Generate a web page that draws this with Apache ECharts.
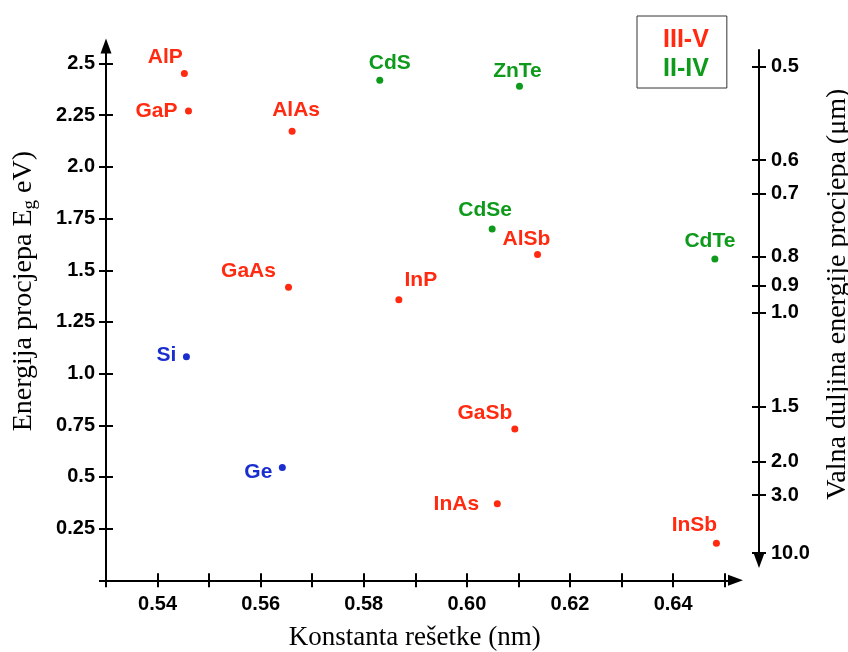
<!DOCTYPE html>
<html lang="hr">
<head>
<meta charset="UTF-8">
<title>Energija procjepa</title>
<script src="https://cdn.jsdelivr.net/npm/echarts@6/dist/echarts.min.js"></script>
<style>
    html, body { margin: 0; padding: 0; background: #fff; }
    #chart { width: 848px; height: 652px; }
</style>
</head>
<body>
<div id="chart"></div>
<script>
    // III-V poluvodici
    var names35 = ['AlP', 'GaP', 'AlAs', 'GaAs', 'InP', 'AlSb', 'GaSb', 'InAs', 'InSb'];
    var lattice35 = [0.5452, 0.5460, 0.5661, 0.5654, 0.5868, 0.6137, 0.6093, 0.6059, 0.6484];
    var gap35 = [2.452, 2.271, 2.173, 1.418, 1.357, 1.576, 0.732, 0.370, 0.179];

    // II-VI poluvodici
    var names26 = ['ZnSe', 'CdS', 'ZnTe', 'CdSe', 'CdTe'];
    var lattice26 = [0.5667, 0.5831, 0.6102, 0.6049, 0.6481];
    var gap26 = [2.706, 2.419, 2.390, 1.700, 1.555];

    // IV
    var names4 = ['Si', 'Ge'];
    var lattice4 = [0.5456, 0.5642];
    var gap4 = [1.081, 0.546];

    // osi
    var xTicks = [0.53, 0.54, 0.55, 0.56, 0.57, 0.58, 0.59, 0.60, 0.61, 0.62, 0.63, 0.64, 0.65];
    var xLabels = [0.54, 0.56, 0.58, 0.60, 0.62, 0.64];
    var yTicks = [0, 0.25, 0.5, 0.75, 1.0, 1.25, 1.5, 1.75, 2.0, 2.25, 2.5];
    var yLabels = [0.25, 0.5, 0.75, 1.0, 1.25, 1.5, 1.75, 2.0, 2.25, 2.5];
    var waveLabels = ['0.5', '0.6', '0.7', '0.8', '0.9', '1.0', '1.5', '2.0', '3.0', '10.0'];
    var waveTickEnergy = [2.483, 2.032, 1.868, 1.565, 1.425, 1.293, 0.838, 0.573, 0.412, 0.131];

    var RED = '#ff2a10', GREEN = '#0e9a1a', BLUE = '#1a2ed0';
    var SANS = "'Liberation Sans', Arial, sans-serif";
    var SERIF = "'Liberation Serif', 'Times New Roman', serif";

    // pomak natpisa od tocke
    var labelOffset = {
        ZnSe: [-39, -2], AlP: [-19, -16], GaP: [-32, 0], AlAs: [4, -21], CdS: [10, -17],
        ZnTe: [-2, -15], CdSe: [-7, -19], AlSb: [-11, -15], CdTe: [-5, -18], GaAs: [-40, -16],
        InP: [22, -20], Si: [-20, -2], Ge: [-24, 5], GaSb: [-30, -16], InAs: [-41, 0], InSb: [-22, -18]
    };

    function points(names, xs, ys) {
        return names.map(function (n, i) {
            return { name: n, value: [xs[i], ys[i]], label: { offset: labelOffset[n] } };
        });
    }

    function scatter(name, color, data) {
        return {
            name: name,
            type: 'scatter',
            xAxisIndex: 0,
            yAxisIndex: 0,
            symbolSize: 7,
            itemStyle: { color: color, opacity: 1 },
            label: {
                show: true,
                position: 'inside',
                formatter: '{b}',
                color: color,
                opacity: 1,
                textBorderWidth: 0,
                fontFamily: SANS,
                fontWeight: 'bold',
                fontSize: 21
            },
            emphasis: { disabled: true },
            data: data
        };
    }

    var line = { color: '#000', width: 2 };
    var tickStyle = { color: '#000', width: 2 };
    var labelFont = { color: '#000', fontFamily: SANS, fontWeight: 'bold', fontSize: 20 };

    var chart = echarts.init(document.getElementById('chart'));
    var option = {
        animation: false,
        backgroundColor: '#fff',
        grid: [
            { left: 106, right: 112.5, top: 46, bottom: 71.7, outerBoundsMode: 'none', containLabel: false },
            { left: 749, width: 10, top: 50, bottom: 91.5, outerBoundsMode: 'none', containLabel: false }
        ],
        legend: {
            orient: 'vertical',
            left: 637,
            top: 16,
            selectedMode: false,
            itemWidth: 0,
            itemHeight: 26,
            itemGap: 4,
            padding: [11, 18, 6, 21],
            borderColor: '#333',
            borderWidth: 1,
            textStyle: { fontFamily: SANS, fontWeight: 'bold', fontSize: 25 },
            data: [
                { name: 'III-V', icon: 'none', textStyle: { color: RED } },
                { name: 'II-IV', icon: 'none', textStyle: { color: GREEN } }
            ]
        },
        xAxis: [
            {
                gridIndex: 0, type: 'value', position: 'bottom', offset: 0,
                min: 0.53, max: 0.6521,
                axisLine: { show: true, onZero: false, symbol: ['none', 'triangle'], symbolSize: [11, 15], lineStyle: line },
                axisTick: { show: true, customValues: xTicks, length: 7, lineStyle: tickStyle },
                axisLabel: Object.assign({
                    customValues: xLabels, margin: 14,
                    formatter: function (v) { return v.toFixed(2); }
                }, labelFont),
                splitLine: { show: false },
                name: 'Konstanta rešetke (nm)',
                nameLocation: 'middle',
                nameGap: 44,
                nameTextStyle: { fontFamily: SERIF, fontSize: 27, color: '#000', padding: [0, 12, 0, 0] }
            },
            {
                // kratke crtice s unutarnje strane osi
                gridIndex: 0, type: 'value', position: 'bottom', offset: -7,
                min: 0.53, max: 0.6521,
                axisLine: { show: false, onZero: false },
                axisTick: { show: true, customValues: xTicks, length: 7, lineStyle: tickStyle },
                axisLabel: { show: false },
                splitLine: { show: false }
            },
            { gridIndex: 1, type: 'value', show: false, min: 0, max: 1 }
        ],
        yAxis: [
            {
                gridIndex: 0, type: 'value', position: 'left', offset: 0,
                min: 0, max: 2.585,
                axisLine: { show: true, onZero: false, symbol: ['none', 'triangle'], symbolSize: [11, 15], lineStyle: line },
                axisTick: { show: true, customValues: yTicks, length: 7, lineStyle: tickStyle },
                axisLabel: Object.assign({
                    customValues: yLabels, margin: 11,
                    formatter: function (v) {
                        return (Math.round(v * 4) % 2 === 0) ? v.toFixed(1) : v.toFixed(2);
                    }
                }, labelFont),
                splitLine: { show: false },
                name: '{n|Energija procjepa E}{s|g}{n| eV)}',
                nameLocation: 'middle',
                nameRotate: 90,
                nameGap: 66,
                nameTextStyle: {
                    padding: [0, 0, 0, 44],
                    rich: {
                        n: { fontFamily: SERIF, fontSize: 28, color: '#000', lineHeight: 32 },
                        s: { fontFamily: SERIF, fontSize: 19, color: '#000', lineHeight: 32, padding: [13, 0, 0, 0] }
                    }
                }
            },
            {
                gridIndex: 0, type: 'value', position: 'left', offset: -7,
                min: 0, max: 2.585,
                axisLine: { show: false, onZero: false },
                axisTick: { show: true, customValues: yTicks, length: 7, lineStyle: tickStyle },
                axisLabel: { show: false },
                splitLine: { show: false }
            },
            {
                gridIndex: 1, type: 'value', position: 'right', offset: 0,
                min: 0.0957, max: 2.564,
                axisLine: { show: true, onZero: false, symbol: ['triangle', 'none'], symbolSize: [11, 15], lineStyle: line },
                axisTick: { show: true, customValues: waveTickEnergy, length: 7, lineStyle: tickStyle },
                axisLabel: Object.assign({
                    customValues: waveTickEnergy, margin: 12,
                    formatter: function (v) {
                        var best = 0;
                        for (var i = 1; i < waveTickEnergy.length; i++) {
                            if (Math.abs(waveTickEnergy[i] - v) < Math.abs(waveTickEnergy[best] - v)) best = i;
                        }
                        return waveLabels[best];
                    }
                }, labelFont),
                splitLine: { show: false },
                name: 'Valna duljina energije procjepa (μm)',
                nameLocation: 'middle',
                nameRotate: 90,
                nameGap: 65,
                nameTextStyle: { fontFamily: SERIF, fontSize: 28, color: '#000', padding: [0, 0, 0, 22] }
            },
            {
                gridIndex: 1, type: 'value', position: 'right', offset: -7,
                min: 0.0957, max: 2.564,
                axisLine: { show: false, onZero: false },
                axisTick: { show: true, customValues: waveTickEnergy, length: 7, lineStyle: tickStyle },
                axisLabel: { show: false },
                splitLine: { show: false }
            }
        ],
        series: [
            scatter('III-V', RED, points(names35, lattice35, gap35)),
            scatter('II-IV', GREEN, points(names26, lattice26, gap26)),
            scatter('IV', BLUE, points(names4, lattice4, gap4))
        ]
    };
    chart.setOption(option);
</script>
</body>
</html>
